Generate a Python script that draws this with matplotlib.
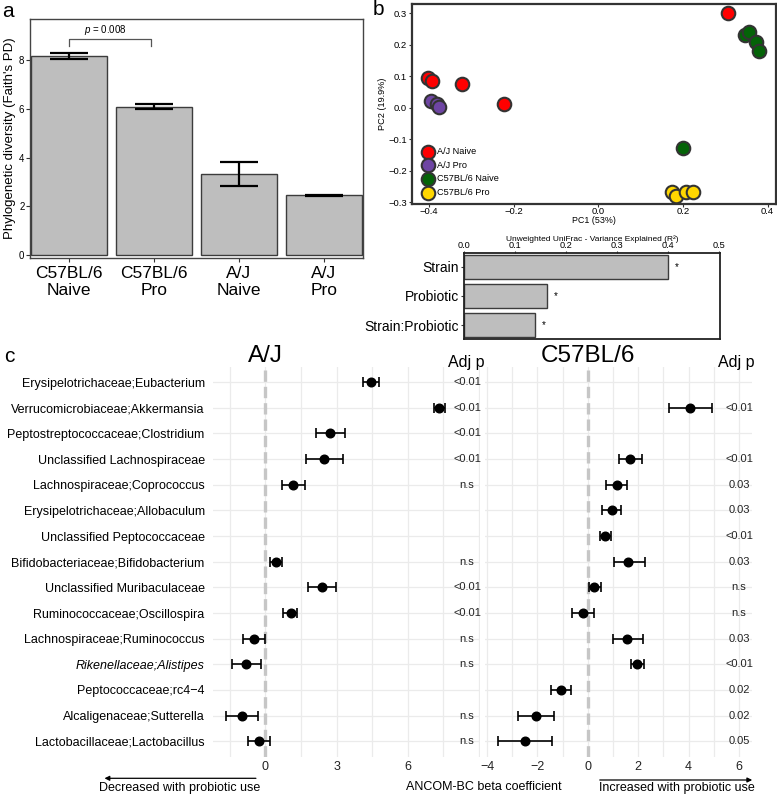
import numpy as np
import matplotlib
matplotlib.use("Agg")
import matplotlib.pyplot as plt

plt.rcParams['font.family'] = ['Liberation Sans', 'DejaVu Sans']
plt.rcParams['axes.unicode_minus'] = True
plt.rcParams['mathtext.fontset'] = 'custom'
plt.rcParams['mathtext.rm'] = 'Liberation Sans'
plt.rcParams['mathtext.it'] = 'Liberation Sans:italic'

W, H = 777, 794

# ---- panel a: Faith's PD ----
pd_groups = ["C57BL/6\nNaive", "C57BL/6\nPro", "A/J\nNaive", "A/J\nPro"]
pd_mean = [8.19, 6.10, 3.32, 2.46]
pd_lo = [8.07, 5.99, 2.82, 2.44]
pd_hi = [8.31, 6.22, 3.82, 2.48]

# ---- panel b: PCoA ----
pcoa_groups = ["A/J Naive", "A/J Pro", "C57BL/6 Naive", "C57BL/6 Pro"]
pcoa_colors = ["#FF0000", "#6E45A3", "#046307", "#FFD700"]
pc1 = [
    [-0.402, -0.393, -0.321, -0.223, 0.306],
    [-0.396, -0.381, -0.376],
    [0.346, 0.356, 0.372, 0.380, 0.200],
    [0.174, 0.183, 0.207, 0.223],
]
pc2 = [
    [0.096, 0.085, 0.075, 0.011, 0.300],
    [0.023, 0.012, 0.004],
    [0.232, 0.242, 0.209, 0.182, -0.126],
    [-0.266, -0.280, -0.266, -0.266],
]

# ---- panel b: PERMANOVA R2 ----
r2_terms = ["Strain", "Probiotic", "Strain:Probiotic"]
r2_values = [0.401, 0.163, 0.140]

# ---- panel c: ANCOM-BC ----
taxa = [
    "Erysipelotrichaceae;Eubacterium",
    "Verrucomicrobiaceae;Akkermansia",
    "Peptostreptococcaceae;Clostridium",
    "Unclassified Lachnospiraceae",
    "Lachnospiraceae;Coprococcus",
    "Erysipelotrichaceae;Allobaculum",
    "Unclassified Peptococcaceae",
    "Bifidobacteriaceae;Bifidobacterium",
    "Unclassified Muribaculaceae",
    "Ruminococcaceae;Oscillospira",
    "Lachnospiraceae;Ruminococcus",
    "Rikenellaceae;Alistipes",
    "Peptococcaceae;rc4\u22124",
    "Alcaligenaceae;Sutterella",
    "Lactobacillaceae;Lactobacillus",
]
nan = np.nan
aj_beta = [4.45, 7.34, 2.74, 2.48, 1.17, nan, nan, 0.43, 2.37, 1.06, -0.49, -0.80, nan, -0.99, -0.27]
aj_lo = [4.12, 7.11, 2.15, 1.70, 0.69, nan, nan, 0.18, 1.80, 0.74, -0.96, -1.41, nan, -1.68, -0.73]
aj_hi = [4.80, 7.58, 3.35, 3.28, 1.67, nan, nan, 0.72, 2.96, 1.32, 0.00, -0.20, nan, -0.31, 0.19]
aj_p = ["<0.01", "<0.01", "<0.01", "<0.01", "n.s", "", "", "n.s", "<0.01", "<0.01", "n.s", "n.s", "", "n.s", "n.s"]

b6_beta = [nan, 4.06, nan, 1.68, 1.15, 0.94, 0.70, 1.61, 0.25, -0.20, 1.57, 1.94, -1.06, -2.06, -2.51]
b6_lo = [nan, 3.20, nan, 1.25, 0.71, 0.55, 0.49, 1.02, 0.03, -0.63, 0.98, 1.71, -1.46, -2.78, -3.58]
b6_hi = [nan, 4.92, nan, 2.14, 1.57, 1.32, 0.91, 2.25, 0.52, 0.25, 2.17, 2.21, -0.67, -1.34, -1.43]
b6_p = ["", "<0.01", "", "<0.01", "0.03", "0.03", "<0.01", "0.03", "n.s", "n.s", "0.03", "<0.01", "0.02", "0.02", "0.05"]


def px_axes(fig, x0, y0, x1, y1):
    return fig.add_axes([x0 / W, 1 - y1 / H, (x1 - x0) / W, (y1 - y0) / H])


fig = plt.figure(figsize=(W / 100, H / 100), dpi=100)
dark = "#333333"

# ================= a =================
ax = px_axes(fig, 30, 19, 363, 258)
xa = np.arange(1, 5)
ax.bar(xa, pd_mean, width=0.9, color="#bebebe", edgecolor="#3c3c3c", linewidth=1.0, zorder=2)
yerr = [np.array(pd_mean) - np.array(pd_lo), np.array(pd_hi) - np.array(pd_mean)]
ax.errorbar(xa, pd_mean, yerr=yerr, fmt="none", ecolor="black", elinewidth=1.6,
            capsize=13.5, capthick=1.6, zorder=3)
ax.plot([1, 1, 1.97, 1.97], [8.60, 8.86, 8.86, 8.60], color="#555555", lw=0.9)
ax.text(1.43, 9.11, r"$p$ = 0.008", ha="center", va="baseline", fontsize=7)
ax.set_xlim(0.54, 4.46)
ax.set_ylim(-0.12, 9.70)
ax.set_yticks([0, 2, 4, 6, 8])
ax.set_xticks(xa)
ax.set_xticklabels(pd_groups, fontsize=12.5, linespacing=1.15)
ax.tick_params(axis="y", labelsize=7, length=3, color=dark, pad=1)
ax.tick_params(axis="x", length=3, color=dark, pad=3)
ax.set_ylabel("Phylogenetic diversity (Faith's PD)", fontsize=9.5, labelpad=2)
for s in ax.spines.values():
    s.set_color("#444444")
    s.set_linewidth(1.0)

# ================= b (PCoA) =================
ax = px_axes(fig, 412, 4, 776, 204)
for i, g in enumerate(pcoa_groups):
    ax.scatter(pc1[i], pc2[i], s=95, color=pcoa_colors[i], edgecolor=dark,
               linewidth=1.5, label=g, zorder=3)
ax.set_xlim(-0.44, 0.42)
ax.set_ylim(-0.305, 0.33)
ax.set_xticks([-0.4, -0.2, 0.0, 0.2, 0.4])
ax.set_yticks([-0.3, -0.2, -0.1, 0.0, 0.1, 0.2, 0.3])
ax.xaxis.set_major_formatter(plt.FuncFormatter(lambda v, p: f"{v:.1f}".replace("-", "\u2212")))
ax.yaxis.set_major_formatter(plt.FuncFormatter(lambda v, p: f"{v:.1f}".replace("-", "\u2212")))
ax.tick_params(labelsize=6.8, length=2.5, color=dark, pad=1.2)
ax.tick_params(axis="x", length=2, pad=0.3)
ax.set_xlabel("PC1 (53%)", fontsize=6.4, labelpad=0.1)
ax.set_ylabel("PC2 (19.9%)", fontsize=6.6, labelpad=1)
for s in ax.spines.values():
    s.set_color(dark)
    s.set_linewidth(1.6)
ax.legend(loc="lower left", bbox_to_anchor=(0.018, 0.012), frameon=False, fontsize=6.6,
          handletextpad=0.55, labelspacing=0.5, borderpad=0, handlelength=1.0)

# ================= b (R2 bars) =================
ax = px_axes(fig, 463.5, 253, 720, 339)
yb = np.arange(len(r2_terms))
ax.barh(yb, r2_values, height=0.83, color="#bebebe", edgecolor="#3c3c3c", linewidth=1.0)
for y, v in zip(yb, r2_values):
    ax.text(v + 0.013, y, "*", ha="left", va="center", fontsize=7)
ax.set_ylim(2.48, -0.48)
ax.set_xlim(0, 0.502)
ax.set_yticks(yb)
ax.set_yticklabels(r2_terms, fontsize=10)
ax.xaxis.tick_top()
ax.xaxis.set_label_position("top")
ax.set_xticks([0, 0.1, 0.2, 0.3, 0.4, 0.5])
ax.set_xticklabels(["0.0", "0.1", "0.2", "0.3", "0.4", "0.5"])
ax.tick_params(axis="x", labelsize=6.6, length=1.5, pad=0.3, color=dark)
ax.tick_params(axis="y", length=2.5, pad=1, color=dark)
ax.set_xlabel("Unweighted UniFrac - Variance Explained (R\u00b2)", fontsize=6.0, labelpad=0.4)
for s in ax.spines.values():
    s.set_color("#222222")
    s.set_linewidth(1.3)

# ================= c =================
rows = np.arange(len(taxa))


def forest(ax, beta, lo, hi, pvals, xlim, xgrid, xticks, px, hx, title, show_labels):
    ax.set_xlim(*xlim)
    ax.set_ylim(len(taxa) - 0.4, -0.6)
    for g in xgrid:
        ax.axvline(g, color="#ebebeb", lw=0.9, zorder=0)
    for r in rows:
        ax.axhline(r, color="#ebebeb", lw=0.9, zorder=0)
    ax.axvline(0, color="#c6c6c6", lw=2.4, ls=(0, (3.4, 1.5)), zorder=1)
    b = np.array(beta)
    ok = ~np.isnan(b)
    err = [b[ok] - np.array(lo)[ok], np.array(hi)[ok] - b[ok]]
    ax.errorbar(b[ok], rows[ok], xerr=err, fmt="o", color="black", ms=6.2,
                elinewidth=1.2, capsize=3.6, capthick=1.2, zorder=3)
    for r, t in zip(rows, pvals):
        if t:
            ax.text(px, r, t, ha="center", va="center", fontsize=8, color="#222222")
    ax.text(hx, -0.58, "Adj p", ha="center", va="baseline", fontsize=11.5)
    ax.text(0, -0.77, title, ha="center", va="baseline", fontsize=17.5)
    ax.set_xticks(xticks)
    ax.set_xticklabels([f"{t:g}".replace("-", "\u2212") for t in xticks])
    ax.tick_params(axis="x", length=0, labelsize=9, pad=3, colors="#222222")
    ax.set_yticks(rows)
    if show_labels:
        ax.set_yticklabels(taxa, fontsize=9)
        lbl = ax.get_yticklabels()[11]
        lbl.set_fontstyle("italic")
    else:
        ax.set_yticklabels([])
    ax.tick_params(axis="y", length=0, pad=6)
    for s in ax.spines.values():
        s.set_visible(False)


ax = px_axes(fig, 213, 366.7, 480, 756.7)
forest(ax, aj_beta, aj_lo, aj_hi, aj_p, (-2.21, 9.05), np.arange(-1.5, 9.1, 1.5),
       [0, 3, 6], 8.5, 8.45, "A/J", True)

ax = px_axes(fig, 485, 366.7, 751.7, 756.7)
forest(ax, b6_beta, b6_lo, b6_hi, b6_p, (-4.08, 6.5), np.arange(-4, 6.1, 1),
       [-4, -2, 0, 2, 4, 6], 6.0, 5.88, "C57BL/6", False)

# bottom annotations
def fy(y):
    return 1 - y / H


fig.patches.append(matplotlib.patches.FancyArrowPatch(
    (258.7 / W, fy(778.3)), (101.7 / W, fy(778.3)), transform=fig.transFigure,
    arrowstyle="-|>", mutation_scale=7, lw=0.9, color="black"))
fig.patches.append(matplotlib.patches.FancyArrowPatch(
    (597 / W, fy(780)), (755 / W, fy(780)), transform=fig.transFigure,
    arrowstyle="-|>", mutation_scale=7, lw=0.9, color="black"))
fig.text(180 / W, fy(790.5), "Decreased with probiotic use", ha="center", va="baseline", fontsize=9)
fig.text(484 / W, fy(790.5), "ANCOM-BC beta coefficient", ha="center", va="baseline", fontsize=9)
fig.text(676.7 / W, fy(790.5), "Increased with probiotic use", ha="center", va="baseline", fontsize=9)

# panel letters
fig.text(2 / W, fy(17), "a", fontsize=15, va="baseline")
fig.text(373 / W, fy(15), "b", fontsize=15, va="baseline")
fig.text(4 / W, fy(362), "c", fontsize=15, va="baseline")

fig.savefig("out.png", dpi=100)
